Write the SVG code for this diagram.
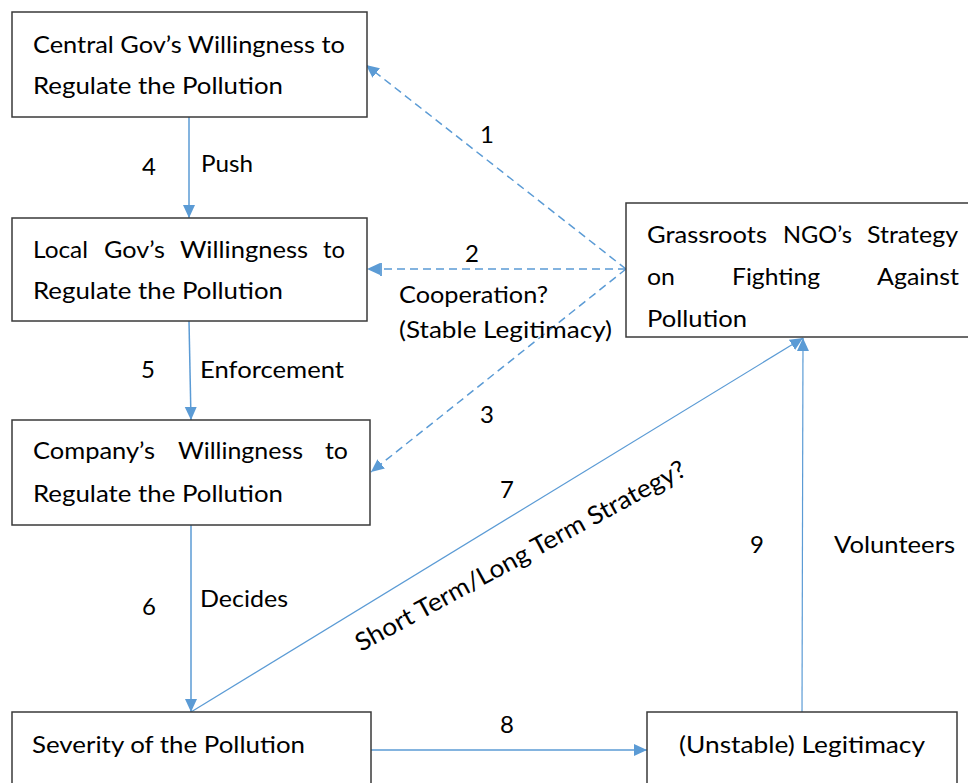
<svg xmlns="http://www.w3.org/2000/svg" width="968" height="783" viewBox="0 0 968 783">
<style>
.box{fill:#fff;stroke:#3a3a3a;stroke-width:1.5}
.t{font-family:Lato,"Liberation Sans",sans-serif;font-size:24px;fill:#000}
.c{fill:none;stroke:#5B9BD5;stroke-width:1.5}
.d{fill:none;stroke:#5B9BD5;stroke-width:1.5;stroke-dasharray:8 5}
.thin{fill:none;stroke:#5B9BD5;stroke-width:1.2}
</style>
<defs>
<marker id="ah" markerUnits="userSpaceOnUse" markerWidth="14" markerHeight="14" viewBox="0 0 14 14" refX="13" refY="7" orient="auto">
<path d="M0,1 L13,7 L0,13 z" fill="#5B9BD5"/>
</marker>
</defs>
<rect width="968" height="783" fill="#fff"/>
<g id="connectors">
<line class="c" x1="189" y1="117" x2="189" y2="218" marker-end="url(#ah)"/>
<line class="c" x1="189" y1="321" x2="191" y2="420" marker-end="url(#ah)"/>
<line class="c" x1="191" y1="525" x2="191" y2="712" marker-end="url(#ah)"/>
<line class="d" x1="626" y1="269" x2="366" y2="65" marker-end="url(#ah)"/>
<line class="d" x1="626" y1="269" x2="367" y2="269" marker-end="url(#ah)"/>
<line x1="381" y1="263" x2="381" y2="276" stroke="#5B9BD5" stroke-width="1.8"/>
<line class="d" x1="626" y1="269" x2="371" y2="472" marker-end="url(#ah)"/>
<line class="thin" x1="191" y1="712" x2="803" y2="338" marker-end="url(#ah)"/>
<line class="c" x1="371" y1="750" x2="647" y2="750" marker-end="url(#ah)"/>
<line class="thin" x1="802" y1="712" x2="803" y2="338" marker-end="url(#ah)"/>
<text class="t" x="487" y="143" text-anchor="middle">1</text>
<text class="t" x="472" y="262" text-anchor="middle">2</text>
<text class="t" x="399" y="303" textLength="149" lengthAdjust="spacingAndGlyphs">Cooperation?</text>
<text class="t" x="399" y="338" textLength="213" lengthAdjust="spacingAndGlyphs">(Stable Legitimacy)</text>
<text class="t" x="487" y="423" text-anchor="middle">3</text>
<text class="t" x="149" y="175" text-anchor="middle">4</text>
<text class="t" x="201" y="172" textLength="52" lengthAdjust="spacingAndGlyphs">Push</text>
<text class="t" x="148" y="378" text-anchor="middle">5</text>
<text class="t" x="200" y="378" textLength="144" lengthAdjust="spacingAndGlyphs">Enforcement</text>
<text class="t" x="149" y="615" text-anchor="middle">6</text>
<text class="t" x="200" y="607" textLength="88" lengthAdjust="spacingAndGlyphs">Decides</text>
<text class="t" x="507" y="498" text-anchor="middle">7</text>
<text class="t" style="font-size:25px" transform="translate(361,652) rotate(-28.5)" textLength="372" lengthAdjust="spacingAndGlyphs">Short Term/Long Term Strategy?</text>
<text class="t" x="507" y="733" text-anchor="middle">8</text>
<text class="t" x="757" y="553" text-anchor="middle">9</text>
<text class="t" x="834" y="553" textLength="121" lengthAdjust="spacingAndGlyphs">Volunteers</text>
</g>
<g id="central">
<rect class="box" x="12" y="12" width="355" height="105"/>
<text class="t" x="33" y="53" textLength="312" lengthAdjust="spacingAndGlyphs">Central Gov’s Willingness to</text>
<text class="t" x="33" y="94" textLength="250" lengthAdjust="spacingAndGlyphs">Regulate the Pollution</text>
</g>
<g id="local">
<rect class="box" x="12" y="218" width="355" height="103"/>
<text class="t" y="258"><tspan x="33" textLength="55" lengthAdjust="spacingAndGlyphs">Local</tspan><tspan x="104" textLength="61" lengthAdjust="spacingAndGlyphs">Gov’s</tspan><tspan x="180" textLength="128" lengthAdjust="spacingAndGlyphs">Willingness</tspan><tspan x="323" textLength="22" lengthAdjust="spacingAndGlyphs">to</tspan></text>
<text class="t" x="33" y="299" textLength="250" lengthAdjust="spacingAndGlyphs">Regulate the Pollution</text>
</g>
<g id="company">
<rect class="box" x="12" y="420" width="358" height="105"/>
<text class="t" y="459"><tspan x="33" textLength="122" lengthAdjust="spacingAndGlyphs">Company’s</tspan><tspan x="178" textLength="125" lengthAdjust="spacingAndGlyphs">Willingness</tspan><tspan x="325" textLength="23" lengthAdjust="spacingAndGlyphs">to</tspan></text>
<text class="t" x="33" y="502" textLength="250" lengthAdjust="spacingAndGlyphs">Regulate the Pollution</text>
</g>
<g id="severity">
<rect class="box" x="12" y="712" width="359" height="90"/>
<text class="t" x="32" y="753" textLength="273" lengthAdjust="spacingAndGlyphs">Severity of the Pollution</text>
</g>
<g id="legitimacy">
<rect class="box" x="647" y="712" width="310" height="90"/>
<text class="t" x="679" y="753" textLength="246" lengthAdjust="spacingAndGlyphs">(Unstable) Legitimacy</text>
</g>
<g id="ngo">
<rect class="box" x="626" y="203" width="360" height="134"/>
<text class="t" y="243"><tspan x="647" textLength="120" lengthAdjust="spacingAndGlyphs">Grassroots</tspan><tspan x="783" textLength="69" lengthAdjust="spacingAndGlyphs">NGO’s</tspan><tspan x="867" textLength="91" lengthAdjust="spacingAndGlyphs">Strategy</tspan></text>
<text class="t" y="285"><tspan x="647" textLength="28" lengthAdjust="spacingAndGlyphs">on</tspan><tspan x="732" textLength="88" lengthAdjust="spacingAndGlyphs">Fighting</tspan><tspan x="877" textLength="82" lengthAdjust="spacingAndGlyphs">Against</tspan></text>
<text class="t" x="647" y="327" textLength="100" lengthAdjust="spacingAndGlyphs">Pollution</text>
</g>
</svg>
